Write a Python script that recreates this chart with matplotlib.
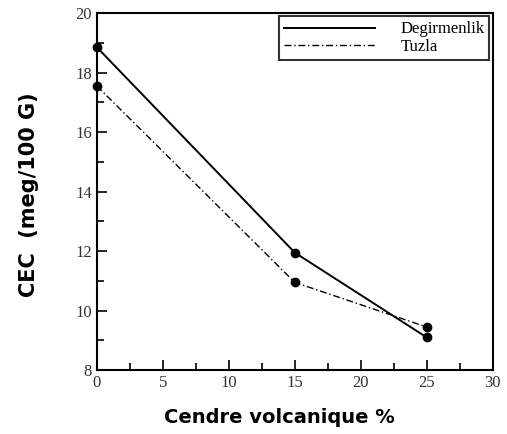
import matplotlib.pyplot as plt
from matplotlib.ticker import MultipleLocator
from matplotlib.lines import Line2D

ash = [0, 15, 25]
degirmenlik = [18.85, 11.95, 9.1]
tuzla = [17.55, 10.95, 9.45]

fig = plt.figure(figsize=(5.07, 4.34), dpi=100)
ax = fig.add_axes([0.191, 0.147, 0.781, 0.823])

dash = (0, (5, 2, 1, 2))
ax.plot(ash, degirmenlik, color="black", lw=1.4, marker="o", ms=6, clip_on=False)
ax.plot(ash, tuzla, color="black", lw=1.0, ls=dash, marker="o", ms=6, clip_on=False)

ax.set_xlim(0, 30)
ax.set_ylim(8, 20)
ax.xaxis.set_major_locator(MultipleLocator(5))
ax.xaxis.set_minor_locator(MultipleLocator(2.5))
ax.yaxis.set_major_locator(MultipleLocator(2))
ax.yaxis.set_minor_locator(MultipleLocator(1))
ax.tick_params(which="both", direction="in", top=False, right=False)
ax.tick_params(which="major", length=7, width=1.2)
ax.tick_params(which="minor", length=5, width=1.2)
for lab in ax.get_xticklabels() + ax.get_yticklabels():
    lab.set_family("Liberation Serif")
    lab.set_fontsize(12)
    lab.set_color("#333333")
for s in ax.spines.values():
    s.set_linewidth(1.5)

ax.set_xlabel("Cendre volcanique %", fontsize=14, fontweight="bold",
              family="DejaVu Sans", labelpad=10)
ax.xaxis.set_label_coords(0.462, -0.105)
ax.set_ylabel("CEC  (meg/100 G)", fontsize=15, fontweight="bold",
              family="DejaVu Sans")
ax.yaxis.set_label_coords(-0.145, 0.49)

handles = [Line2D([], [], color="black", lw=1.4),
           Line2D([], [], color="black", lw=1.0, ls=dash)]
leg = ax.legend(handles, ["Degirmenlik", "Tuzla"], loc="upper right",
                prop={"family": "Liberation Serif", "size": 12},
                frameon=True, fancybox=False, edgecolor="black",
                handlelength=5.5, borderpad=0.3, labelspacing=0.1,
                handletextpad=1.5, borderaxespad=0.2)
leg.get_frame().set_linewidth(1.5)

fig.savefig("out.png", dpi=100)
